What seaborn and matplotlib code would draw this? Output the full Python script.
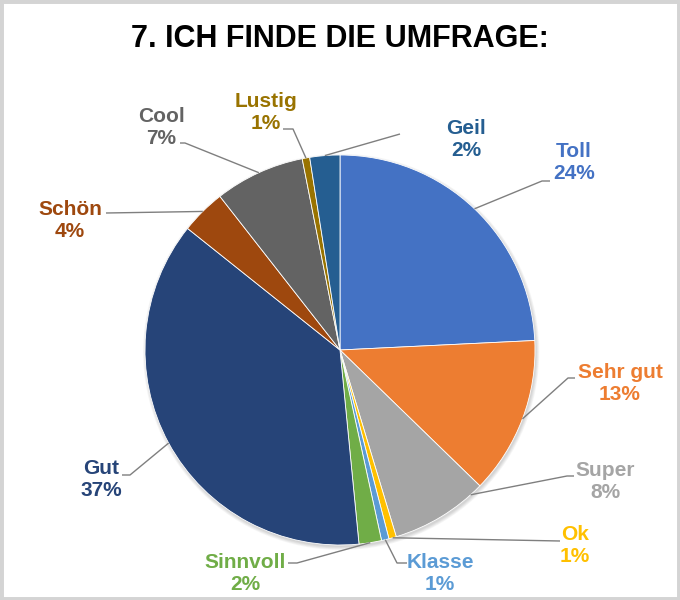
import numpy as np
import matplotlib.pyplot as plt
import seaborn as sns
from matplotlib.patches import Rectangle, Circle

sns.set_theme(style='white')
plt.rcParams['font.family'] = ['Liberation Sans', 'DejaVu Sans']

# survey answers, clockwise from 12 o'clock
answers = ['Toll', 'Sehr gut', 'Super', 'Ok', 'Klasse', 'Sinnvoll',
           'Gut', 'Schön', 'Cool', 'Lustig', 'Geil']
counts = [39, 21, 13, 1, 1, 3, 60, 6, 12, 1, 4]
colors = ['#4472C4', '#ED7D31', '#A5A5A5', '#FFC000', '#5B9BD5', '#70AD47',
          '#264478', '#9E480E', '#636363', '#997300', '#255E91']

# label block centres and leader line starts (pixels), where along the wedge the line ends
label_xy = [(574, 162), (620, 384), (605, 481), (575, 546), (440, 573), (245, 573),
            (101, 480), (70, 220), (161, 127), (266, 112), (466, 139)]
leader_px = [[(550, 181), (542, 181)], [(575, 378), (568, 378)], [(574, 476), (567, 476)],
             [(560, 541)], [(407, 563), (397, 563)], [(288, 563), (297, 563)],
             [(122, 475), (130, 475)], [(106, 213)], [(180, 143), (185, 143)],
             [(283, 129), (293, 129)], [(400, 134)]]
anchor_frac = [0.5, 0.5, 0.87, 0.5, 0.5, 0.5, 0.5, 0.5, 0.5, 0.5, 0.5]

W, H = 680, 600
CX, CY, R = 340, 350, 195


def to_data(x, y):
    return (x - CX) / R, (CY - y) / R


fig = plt.figure(figsize=(W / 100, H / 100), dpi=100)
ax = fig.add_axes([0, 0, 1, 1])

# soft shadow under the pie
for k in range(5):
    ax.add_patch(Circle((0.006, -0.01), 1.0 + 0.004 * k, color='black',
                        alpha=0.035, lw=0, zorder=0))

wedges, _ = ax.pie(counts, colors=colors, startangle=90, counterclock=False,
                   radius=1, center=(0, 0),
                   wedgeprops=dict(edgecolor='white', linewidth=0.6, zorder=1))
ax.set_xlim(-CX / R, (W - CX) / R)
ax.set_ylim((CY - H) / R, CY / R)
ax.axis('off')

total = sum(counts)
for i, w in enumerate(wedges):
    t = np.deg2rad(w.theta1 + anchor_frac[i] * (w.theta2 - w.theta1))
    pts = [to_data(*p) for p in leader_px[i]] + [(np.cos(t), np.sin(t))]
    xs, ys = zip(*pts)
    ax.plot(xs, ys, color='#7F7F7F', lw=1.0, solid_capstyle='butt', zorder=2)
    lx, ly = to_data(*label_xy[i])
    pct = round(100 * counts[i] / total)
    ax.text(lx, ly, f'{answers[i]}\n{pct}%', ha='center', va='center',
            fontsize=15, fontweight='bold', color=colors[i], linespacing=1.2)

fig.text(0.5, 1 - 39 / H, '7. ICH FINDE DIE UMFRAGE:', ha='center', va='center',
         fontsize=22, fontweight='bold', color='black')

fig.patches.append(Rectangle((0, 0), 1, 1, transform=fig.transFigure, fill=False,
                             edgecolor='#D4D4D4', linewidth=5))

fig.savefig('out.png', dpi=100, facecolor='white')
